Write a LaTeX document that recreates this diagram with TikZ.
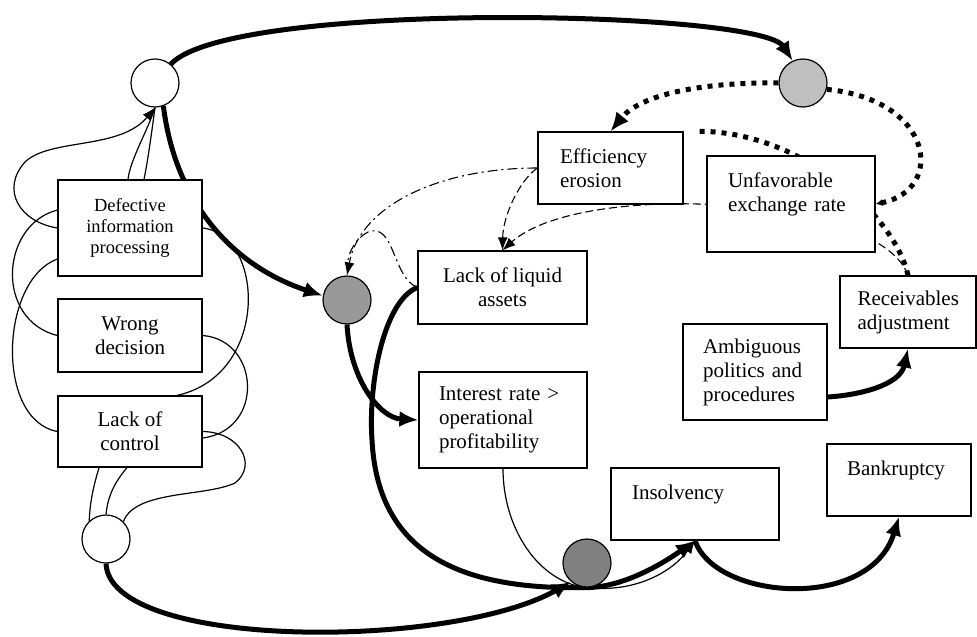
\documentclass[tikz,border=0pt]{standalone}
\usepackage{fontspec}
\setmainfont{Liberation Serif}
\usetikzlibrary{arrows.meta}
\pgfdeclarelayer{bg}
\pgfsetlayers{bg,main}
\begin{document}
\begin{tikzpicture}[x=1pt,y=-1pt,
  box/.style={draw, line width=1.2pt, fill=white, inner sep=0pt, font=\fontsize{21}{24}\selectfont},
  circ/.style={circle, draw, line width=1.2pt, minimum size=48pt, inner sep=0pt},
  lnthin/.style={line width=1.2pt},
  lnthick/.style={line width=5pt},
  tipthin/.style={-{Latex[length=13pt,width=10pt]}},
  tipthick/.style={-{Latex[length=19pt,width=16pt]}},
  dotsq/.style={line width=5pt, dash pattern=on 5pt off 6pt},
  dashthin/.style={line width=1.1pt, dash pattern=on 8pt off 4pt},
  dashdot/.style={line width=1.1pt, dash pattern=on 10pt off 4pt on 2pt off 4pt}]
\useasboundingbox (0,0) rectangle (977,637);

% boxes
\node[box, minimum width=144pt, minimum height=96pt, align=center, font=\fontsize{18.5}{21}\selectfont] (def) at (130,228) {Defective\\information\\processing};
\node[box, minimum width=144pt, minimum height=73pt, align=center] (wrong) at (130,335.5) {Wrong\\decision};
\node[box, minimum width=144pt, minimum height=71pt, align=center] (loc) at (130,431.5) {Lack of\\control};
\node[box, minimum width=169pt, minimum height=73pt, align=center] (lla) at (502.5,287.5) {Lack of liquid\\assets};
\node[box, minimum width=145pt, minimum height=72pt, text width=101pt, align=left] (eff) at (610.5,168) {Efficiency\\erosion};
\node[box, minimum width=168pt, minimum height=96pt, text width=126pt, align=left] (unf) at (791,204) {Unfavorable\\exchange rate\\~};
\node[box, minimum width=136pt, minimum height=72pt, text width=101pt, align=left] (rec) at (908,312) {Receivables\\adjustment};
\node[box, minimum width=144pt, minimum height=96pt, text width=104pt, align=left] (amb) at (755,372) {Ambiguous\\politics and\\procedures};
\node[box, minimum width=144pt, minimum height=72pt, text width=104pt, align=left] (bank) at (899,480) {Bankruptcy\\~};
\node[box, minimum width=168pt, minimum height=72pt, text width=126pt, align=left] (ins) at (695,504) {Insolvency\\~};
\node[box, minimum width=168pt, minimum height=96pt, text width=128pt, align=left] (int) at (503,420) {Interest rate >\\operational\\profitability};

% circles
\node[circ, fill=white] (c1) at (155,83) {};
\node[circ, fill=white] (c2) at (106,539) {};
\node[circ, fill=black!40] (c3) at (347,300) {};
\node[circ, fill=black!25] (c4) at (803,83) {};
\node[circ, fill=black!50] (c5) at (587,563) {};

\begin{pgfonlayer}{bg}
% thick arrows
\draw[lnthick, tipthick] (c1.50) .. controls (230,0) and (760,10) .. (c4.115);
\draw[lnthick, tipthick] (c1.-70) .. controls (175,200) and (230,265) .. (c3.170);
\draw[lnthick, tipthick] (c3.south) .. controls (350,380) and (380,418) .. (int.west);
\draw[lnthick] (lla.west) .. controls (385,300) and (368,380) .. (372,440) .. controls (378,560) and (470,590) .. (c5.south);
\draw[lnthick, tipthick] (c5.south) .. controls (625,587) and (665,562) .. (ins.south);
\draw[lnthin] (int.south) .. controls (503,530) and (540,583) .. (c5.south);
\draw[lnthin, tipthin] (c5.south) .. controls (635,593) and (672,572) .. (ins.south);
\draw[lnthick, tipthick] (c2.south) .. controls (110,650) and (450,650) .. (c5.230);
\draw[lnthick, tipthick] (ins.south) .. controls (715,600) and (870,612) .. (bank.south);
\draw[lnthick, tipthick] (amb.-19) .. controls (860,395) and (900,385) .. (rec.south);

% dotted
\draw[dotsq, tipthick] (c4.west) .. controls (700,82) and (640,95) .. (eff.north);
\draw[dotsq, -{Latex[length=7pt,width=7pt]}] (c4.-15) .. controls (935,100) and (945,190) .. (unf.east);
\draw[dotsq, shorten >=12pt] (rec.north) .. controls (895,215) and (800,130) .. (eff.north east);

% dashed
\draw[dashthin, tipthin] (rec.north) .. controls (880,195) and (580,180) .. (lla.north);
\draw[dashthin, tipthin] (eff.west) .. controls (520,180) and (503,215) .. (lla.north);

% dash-dot
\draw[dashdot, shorten >=10pt] (lla.west) .. controls (392,277) and (395,222) .. (368,232) .. controls (356,238) and (348,252) .. (c3.north);
\draw[dashdot, tipthin] (eff.west) .. controls (440,168) and (360,205) .. (c3.north);

% left thin lines
\draw[lnthin] ([xshift=-2pt]def.north) .. controls (130,160) and (148,130) .. (c1.south);
\draw[lnthin] ([xshift=14pt]def.north) .. controls (148,160) and (152,130) .. (c1.south);
\draw[lnthin, tipthin] (def.west) .. controls (20,222) and (0,190) .. (25,162) .. controls (50,138) and (120,150) .. (c1.south);
\draw[lnthin] ([yshift=18pt]def.west) .. controls (0,225) and (-5,320) .. (wrong.west);
\draw[lnthin] ([yshift=-31pt]def.west) .. controls (0,280) and (-5,420) .. (loc.west);
\draw[lnthin] (def.east) .. controls (265,235) and (270,375) .. ([xshift=47pt]loc.north);
\draw[lnthin] (wrong.east) .. controls (260,340) and (265,430) .. ([yshift=-6.5pt]loc.east);
\draw[lnthin] (loc.east) .. controls (240,432) and (258,465) .. (235,483) .. controls (205,497) and (135,490) .. (c2.45);
\draw[lnthin] ([xshift=-31pt]loc.south) .. controls (94,485) and (90,500) .. (c2.133);
\draw[lnthin] ([xshift=-3pt]loc.south) .. controls (115,482) and (108,495) .. (c2.north);
\end{pgfonlayer}
\end{tikzpicture}
\end{document}
